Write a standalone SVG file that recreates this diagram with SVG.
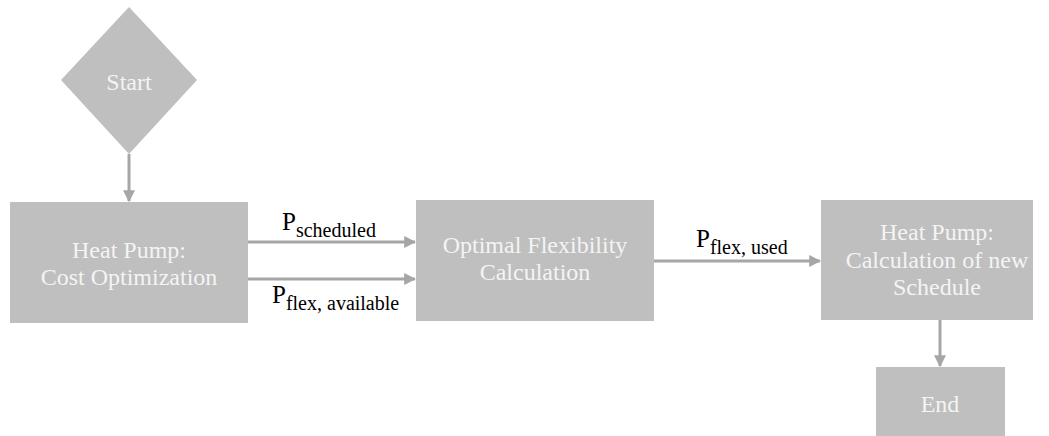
<svg xmlns="http://www.w3.org/2000/svg" width="1049" height="436" viewBox="0 0 1049 436">
<style>
.node{fill:#bfbfbf}
.nt{font-family:"Liberation Serif",serif;font-size:24px;fill:#f4f4f4;text-anchor:middle}
.ln{stroke:#a6a6a6;stroke-width:3;fill:none;marker-end:url(#ah)}
.lb{font-family:"Liberation Serif",serif;fill:#000}
.P{font-size:25px}
.s{font-size:20px}
</style>
<defs>
<marker id="ah" viewBox="0 0 10 10" refX="9" refY="5" markerWidth="4" markerHeight="4" orient="auto" markerUnits="strokeWidth">
<path d="M0,0 L10,5 L0,10 z" fill="#a6a6a6"/>
</marker>
</defs>
<rect width="1049" height="436" fill="#fff"/>
<g id="connectors">
<line class="ln" x1="129" y1="154" x2="129" y2="201"/>
<line class="ln" x1="248" y1="242" x2="415" y2="242"/>
<line class="ln" x1="248" y1="279" x2="415" y2="279"/>
<line class="ln" x1="654" y1="261" x2="820" y2="261"/>
<line class="ln" x1="940" y1="320" x2="940" y2="366"/>
</g>
<g id="labels">
<text class="lb" x="282" y="230"><tspan class="P">P</tspan><tspan class="s" dy="7">scheduled</tspan></text>
<text class="lb" x="272" y="303"><tspan class="P">P</tspan><tspan class="s" dy="7" font-size="19">flex, available</tspan></text>
<text class="lb" x="696" y="247"><tspan class="P">P</tspan><tspan class="s" dy="7" font-size="19">flex, used</tspan></text>
</g>
<g id="start">
<polygon class="node" points="129,7 197,80 129,154 61,80"/>
<text class="nt" x="129" y="90">Start</text>
</g>
<g id="cost-optimization">
<rect class="node" x="10" y="202" width="238" height="121"/>
<text class="nt" x="129" y="258">Heat Pump:</text>
<text class="nt" x="129" y="285">Cost Optimization</text>
</g>
<g id="flexibility">
<rect class="node" x="416" y="200" width="238" height="121"/>
<text class="nt" x="535" y="253">Optimal Flexibility</text>
<text class="nt" x="535" y="280">Calculation</text>
</g>
<g id="new-schedule">
<rect class="node" x="821" y="200" width="212" height="120"/>
<text class="nt" x="937" y="240">Heat Pump:</text>
<text class="nt" x="937" y="268">Calculation of new</text>
<text class="nt" x="937" y="295">Schedule</text>
</g>
<g id="end">
<rect class="node" x="876" y="367" width="129" height="69"/>
<text class="nt" x="940" y="412">End</text>
</g>
</svg>
